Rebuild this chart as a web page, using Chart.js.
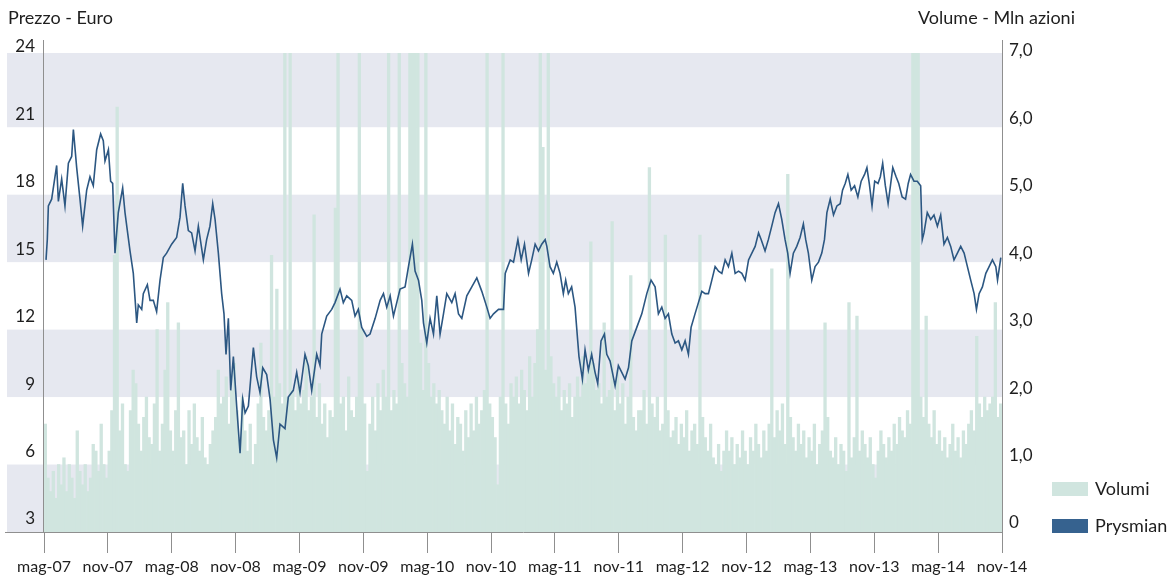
<!DOCTYPE html>
<html lang="it">
<head>
<meta charset="utf-8">
<title>Prysmian - prezzo e volumi</title>
<script src="https://cdn.jsdelivr.net/npm/chart.js@4.4.1/dist/chart.umd.min.js"></script>
<style>
  html, body { margin: 0; padding: 0; background: #fff; }
  #wrap { width: 1175px; height: 579px; }
</style>
</head>
<body>
<div id="wrap"><canvas id="grafico" width="1175" height="579"></canvas></div>
<script>
// etichette asse x, una ogni 6 mesi (mag-07 = mese 0)
const etichetteMesi = ['mag-07','nov-07','mag-08','nov-08','mag-09','nov-09','mag-10','nov-10',
  'mag-11','nov-11','mag-12','nov-12','mag-13','nov-13','mag-14','nov-14'];
const tickPrezzo = [3, 6, 9, 12, 15, 18, 21, 24];
const tickVolume = [0, 1, 2, 3, 4, 5, 6, 7];
const titoloPrezzo = 'Prezzo - Euro';
const titoloVolume = 'Volume - Mln azioni';

// quotazione Prysmian: [mese da mag-07, prezzo in euro]
const quotazioni = [
  [0.19,15.1],[0.31,16.0],[0.41,17.5],[0.72,17.8],[1.19,19.3],[1.35,17.7],[1.66,18.7],[1.97,17.5],[2.29,19.4],[2.60,19.7],
  [2.76,20.9],[3.07,19.2],[3.38,17.8],[3.63,16.6],[4.01,18.2],[4.32,18.8],[4.63,18.4],[4.95,20.0],[5.32,20.7],[5.57,20.4],
  [5.73,19.5],[6.05,20.0],[6.26,18.6],[6.45,18.5],[6.67,15.4],[6.98,17.2],[7.39,18.3],[7.61,17.2],[7.83,16.4],[8.08,15.5],
  [8.39,14.5],[8.71,12.3],[8.86,13.1],[9.18,12.9],[9.33,13.6],[9.71,14.0],[9.96,13.3],[10.27,13.3],[10.58,12.8],[10.90,14.2],
  [11.21,15.2],[11.52,15.4],[11.99,15.8],[12.46,16.1],[12.78,17.0],[13.03,18.5],[13.25,17.5],[13.56,16.4],[13.87,16.3],[14.19,15.5],
  [14.50,16.6],[14.97,15.1],[15.28,16.0],[15.59,16.6],[15.85,17.6],[16.07,16.9],[16.38,15.4],[16.69,13.6],[16.91,12.7],[17.10,10.9],
  [17.32,12.5],[17.54,9.3],[17.79,10.8],[18.10,8.6],[18.42,6.5],[18.67,8.9],[18.89,8.3],[19.20,8.6],[19.67,11.2],[19.98,9.9],
  [20.29,9.2],[20.55,10.3],[20.92,10.0],[21.24,8.9],[21.55,7.1],[21.86,6.3],[22.17,7.8],[22.64,7.6],[22.95,9.0],
  [23.42,9.3],[23.74,10.1],[24.05,9.2],[24.52,10.9],[24.83,10.4],[25.15,9.3],[25.62,10.9],[25.93,10.4],[26.09,11.8],[26.56,12.6],
  [27.03,12.9],[27.34,13.2],[27.81,13.8],[28.12,13.2],[28.44,13.5],[28.91,13.3],[29.22,12.6],[29.53,12.9],[29.85,12.1],[30.32,11.7],
  [30.63,11.8],[31.11,12.5],[31.58,13.3],[31.89,13.6],[32.20,13.0],[32.52,13.5],[32.83,12.6],[33.14,13.2],[33.45,13.8],[33.92,13.9],
  [34.24,14.8],[34.61,15.8],[34.86,14.6],[35.18,14.2],[35.49,13.3],[35.65,12.3],[35.96,11.4],[36.27,12.5],[36.59,11.8],[36.90,13.5],
  [37.21,11.8],[37.53,12.7],[37.84,13.6],[38.31,13.2],[38.62,13.6],[38.94,12.7],[39.25,12.5],[39.72,13.5],[40.19,13.9],[40.66,14.3],
  [41.13,13.7],[41.60,13.0],[41.91,12.5],[42.23,12.7],[42.70,12.9],[43.17,12.9],[43.33,14.5],[43.80,15.1],[44.11,15.0],[44.52,16.0],
  [44.83,15.1],[45.14,15.8],[45.52,14.5],
  [45.82,15.1],[46.14,15.8],[46.45,15.5],[46.76,15.8],[47.08,16.0],[47.24,15.7],[47.54,14.8],[47.85,14.5],[48.17,15.0],[48.48,14.5],
  [48.79,13.6],[49.01,14.2],[49.26,13.6],[49.57,13.9],[49.89,13.0],[50.14,11.5],[50.26,10.8],[50.58,9.8],[50.83,11.1],[51.14,10.2],
  [51.45,10.9],[51.77,10.1],[52.02,9.6],[52.33,11.5],[52.65,11.8],[52.87,10.9],[53.18,10.6],[53.40,10.1],[53.65,9.5],[53.96,10.4],
  [54.28,10.1],[54.59,9.8],[54.91,10.3],[55.22,11.5],[55.69,12.1],[56.16,12.7],[56.63,13.6],[57.03,14.2],[57.41,13.9],[57.72,12.7],
  [58.04,13.0],[58.35,12.5],[58.66,12.7],[58.98,11.8],[59.29,11.4],[59.60,11.5],[59.92,11.1],[60.23,11.5],[60.54,10.9],[60.79,12.1],
  [61.16,12.7],[61.48,13.2],[61.80,13.7],[62.11,13.6],[62.42,13.6],[62.74,14.2],[63.05,14.8],[63.37,14.6],[63.68,14.5],[63.99,15.1],
  [64.30,14.8],[64.62,15.4],[64.93,14.5],[65.25,14.6],[65.56,14.5],[65.87,14.2],[66.19,15.1],[66.50,15.4],[66.81,15.7],[67.13,16.3],
  [67.38,16.0],
  [67.74,15.5],[68.05,16.0],[68.37,16.6],[68.68,17.2],[69.00,17.6],[69.31,16.9],[69.62,16.0],[69.87,15.4],[70.09,14.5],[70.40,15.4],
  [70.72,15.7],[71.03,16.1],[71.34,16.7],[71.56,16.0],[71.81,15.4],[72.13,14.2],[72.44,14.8],[72.76,15.0],[73.07,15.4],[73.32,16.0],
  [73.55,17.2],[73.86,17.8],[74.17,17.1],[74.49,17.5],[74.80,17.6],[75.02,18.2],[75.27,18.5],[75.52,18.9],[75.83,18.2],[76.15,18.4],
  [76.46,17.9],[76.77,18.6],[77.09,18.9],[77.31,19.2],[77.53,18.5],[77.79,17.5],[78.04,18.6],[78.35,18.5],[78.57,18.8],[78.79,19.4],
  [79.04,18.4],[79.30,17.6],[79.52,18.4],[79.74,19.2],[80.05,18.8],[80.30,18.5],[80.62,17.9],[80.94,17.8],[81.19,18.5],[81.41,18.9],
  [81.73,18.6],[82.04,18.6],[82.36,18.4],[82.51,16.0],[82.67,16.3],[82.98,17.2],[83.30,16.9],[83.61,17.1],[83.93,16.6],[84.24,17.1],
  [84.55,15.8],[84.87,16.1],[85.18,15.7],[85.49,15.1],[85.81,15.4],[86.12,15.7],[86.44,15.4],[86.75,14.8],[87.06,14.2],[87.38,13.6],
  [87.60,12.9],[87.85,13.6],[88.16,13.9],[88.48,14.5],[88.79,14.8],[89.10,15.1],[89.42,14.8],[89.58,14.2],[89.89,15.2]
];

// volumi in milioni di azioni, 4 valori per mese (circa settimanali), da mag-07 a ott-14
const volumi = [
  1.6,0.8,0.6,0.9, 0.5,1.0,0.7,1.1, 0.6,1.0,0.8,0.5,   // mag-lug 07
  1.5,0.9,0.7,1.0, 0.6,0.8,1.3,1.2, 0.9,1.6,1.0,0.8,   // ago-ott 07
  1.2,1.8,4.1,6.3, 1.5,1.9,1.0,0.9, 1.8,2.4,2.2,1.6,   // nov 07-gen 08
  1.2,1.7,2.0,1.4, 1.3,1.9,3.0,1.2, 1.6,2.4,3.4,1.5,   // feb-apr 08
  1.2,1.8,3.1,1.4, 1.5,1.0,1.8,1.3, 1.9,1.4,1.2,1.7,   // mag-lug 08
  1.1,1.0,1.3,1.5, 1.7,2.4,1.9,2.0, 2.3,1.6,2.1,2.5,   // ago-ott 08
  1.8,1.4,2.0,1.5, 1.2,1.6,1.0,1.3, 1.9,2.8,1.7,1.5,   // nov 08-gen 09
  1.8,4.1,2.0,3.6, 2.2,1.9,7.2,2.0, 7.2,2.1,1.8,2.3,   // feb-apr 09
  1.9,2.1,2.6,1.8, 2.0,4.7,1.7,2.2, 1.6,1.9,1.4,1.8,   // mag-lug 09
  1.7,4.8,7.2,1.9, 2.0,1.5,2.3,1.8, 1.7,2.0,7.2,3.0,   // ago-ott 09
  1.9,0.9,1.6,2.0, 1.5,2.2,1.8,2.4, 2.0,7.2,1.8,2.1,   // nov 09-gen 10
  1.9,7.2,2.5,2.2, 2.0,7.2,7.2,7.2, 7.2,2.8,2.1,7.2,   // feb-apr 10
  2.5,2.0,2.2,1.9, 2.1,1.8,1.6,2.0, 1.5,1.9,1.3,1.7,   // mag-lug 10
  1.6,1.2,1.8,1.4, 1.9,1.5,2.0,1.6, 1.8,2.1,7.2,1.9,   // ago-ott 10
  1.7,1.4,0.7,2.0, 7.2,1.9,1.6,2.2, 2.0,2.3,1.9,2.4,   // nov 10-gen 11
  2.1,1.8,2.6,2.0, 2.5,3.0,7.2,5.7, 2.4,7.2,2.6,2.2,   // feb-apr 11
  2.0,2.3,1.8,2.1, 1.9,2.2,1.7,2.0, 2.3,2.0,2.6,2.2,   // mag-lug 11
  2.4,4.3,2.5,2.1, 2.2,1.9,3.1,2.0, 2.1,4.6,1.8,2.4,   // ago-ott 11
  1.9,2.2,1.6,2.0, 3.8,1.7,1.5,1.8, 1.8,2.1,1.6,5.4,   // nov 11-gen 12
  1.9,1.7,2.0,1.5, 1.6,4.4,1.8,1.4, 1.5,1.7,1.3,1.6,   // feb-apr 12
  1.4,1.8,1.2,1.5, 1.6,1.3,4.4,1.7, 1.4,1.2,1.6,1.1,   // mag-lug 12
  1.0,1.3,0.9,1.2, 1.5,1.2,1.4,1.0, 1.3,1.1,1.5,1.2,   // ago-ott 12
  1.0,1.4,1.2,1.6, 1.3,1.1,1.5,1.2, 1.6,3.9,1.4,1.8,   // nov 12-gen 13
  1.5,1.9,1.3,5.3, 1.7,1.4,1.2,1.6, 1.3,1.5,1.1,1.4,   // feb-apr 13
  1.2,1.6,1.0,1.3, 1.5,3.1,1.7,1.2, 1.1,1.4,1.0,1.3,   // mag-lug 13
  1.2,0.9,3.4,1.1, 1.4,3.2,1.2,1.5, 1.3,1.1,1.4,1.0,   // ago-ott 13
  0.8,1.2,1.5,1.3, 1.1,1.4,1.2,1.6, 1.3,1.7,1.5,1.4,   // nov 13-gen 14
  1.8,1.6,7.2,7.2, 7.2,2.0,1.7,3.2, 1.6,1.4,1.8,1.3,   // feb-apr 14
  1.5,1.2,1.4,1.1, 1.3,1.6,1.2,1.4, 1.1,1.5,1.3,1.6,   // mag-lug 14
  1.8,1.5,2.9,1.9, 1.7,2.0,1.8,1.9, 2.0,3.4,1.7,1.9    // ago-ott 14
];

const COLORE_VOLUMI = '#d0e5df';
const COLORE_PREZZO = '#2c5782';
const COLORE_LEGENDA_PREZZO = '#36628f';
const COLORE_FASCIA = '#e6e8f0';
const COLORE_ASSI = '#8f8f8f';
const COLORE_TESTO = '#1e1e1e';
const FONT = '"Lato", "Open Sans", sans-serif';

// fasce grigie alternate, dietro a tutto (anche sotto le etichette di sinistra)
const fasce = {
  id: 'fasce',
  beforeDraw(chart) {
    const { ctx, chartArea, scales } = chart;
    const yv = scales.yVol;
    ctx.save();
    ctx.fillStyle = COLORE_FASCIA;
    for (let v = 0; v < tickVolume.length - 1; v += 2) {
      const alto = v + 1 >= tickVolume[tickVolume.length - 1] ? yv.max : v + 1;
      const top = yv.getPixelForValue(alto);
      const bottom = yv.getPixelForValue(v);
      ctx.fillRect(7, top, chartArea.right - 7, bottom - top);
    }
    ctx.restore();
  }
};

// linee degli assi, titoli e legenda
const cornice = {
  id: 'cornice',
  afterDraw(chart) {
    const { ctx, chartArea } = chart;
    ctx.save();
    ctx.strokeStyle = COLORE_ASSI;
    ctx.lineWidth = 1;
    ctx.beginPath();
    ctx.moveTo(chartArea.left - 0.5, 40); ctx.lineTo(chartArea.left - 0.5, chartArea.bottom);
    ctx.moveTo(chartArea.right + 0.5, 40); ctx.lineTo(chartArea.right + 0.5, chartArea.bottom);
    ctx.moveTo(5, chartArea.bottom + 0.5); ctx.lineTo(chartArea.left, chartArea.bottom + 0.5);
    ctx.stroke();

    ctx.fillStyle = COLORE_TESTO;
    ctx.font = '18px ' + FONT;
    ctx.textBaseline = 'middle';
    ctx.textAlign = 'left';
    ctx.fillText(titoloPrezzo, 8, 18);
    ctx.fillText(titoloVolume, chartArea.right - 84, 18);

    // legenda
    const voci = [
      { testo: chart.data.datasets[1].label, colore: COLORE_VOLUMI, y: 482 },
      { testo: chart.data.datasets[0].label, colore: COLORE_LEGENDA_PREZZO, y: 519 }
    ];
    voci.forEach(v => {
      ctx.fillStyle = v.colore;
      ctx.fillRect(chartArea.right + 50, v.y, 36, 14);
      ctx.fillStyle = COLORE_TESTO;
      ctx.fillText(v.testo, chartArea.right + 93, v.y + 7);
    });
    ctx.restore();
  }
};

const ctx = document.getElementById('grafico').getContext('2d');
new Chart(ctx, {
  type: 'line',
  data: {
    datasets: [
      {
        type: 'line',
        label: 'Prysmian',
        data: quotazioni.map(q => ({ x: q[0], y: q[1] })),
        yAxisID: 'yPrezzo',
        borderColor: COLORE_PREZZO,
        borderWidth: 1.6,
        pointRadius: 0,
        tension: 0,
        order: 1
      },
      {
        type: 'bar',
        label: 'Volumi',
        data: volumi.map((v, i) => ({ x: i * 0.25 + 0.125, y: v })),
        yAxisID: 'yVol',
        backgroundColor: COLORE_VOLUMI,
        borderWidth: 0,
        barPercentage: 1,
        categoryPercentage: 1,
        grouped: false,
        order: 2
      }
    ]
  },
  options: {
    responsive: false,
    animation: false,
    events: [],
    layout: { padding: { top: 53, left: 0, right: 0, bottom: 0 } },
    plugins: { legend: { display: false }, tooltip: { enabled: false } },
    scales: {
      x: {
        type: 'linear',
        min: 0,
        max: 90,
        offset: false,
        afterBuildTicks: s => { s.ticks = etichetteMesi.map((_, i) => ({ value: i * 6 })); },
        afterFit: s => { s.height = 47; },
        ticks: {
          autoSkip: false,
          maxRotation: 0,
          padding: 4,
          color: COLORE_TESTO,
          font: { family: FONT, size: 16 },
          callback: v => etichetteMesi[Math.round(v / 6)]
        },
        grid: { drawOnChartArea: false, drawTicks: true, tickLength: 21, color: COLORE_ASSI, offset: false },
        border: { display: true, color: COLORE_ASSI }
      },
      yPrezzo: {
        type: 'linear',
        position: 'left',
        min: 3,
        max: 24.3,
        afterBuildTicks: s => { s.ticks = tickPrezzo.map(v => ({ value: v })); },
        afterFit: s => { s.width = 44; },
        ticks: {
          padding: 9,
          labelOffset: -13,
          color: COLORE_TESTO,
          font: { family: FONT, size: 17 }
        },
        grid: { display: false, drawTicks: false },
        border: { display: false }
      },
      yVol: {
        type: 'linear',
        position: 'right',
        min: 0,
        max: 7.1,
        afterBuildTicks: s => { s.ticks = tickVolume.map(v => ({ value: v })); },
        afterFit: s => { s.width = 173; },
        ticks: {
          padding: 7,
          labelOffset: -9,
          color: COLORE_TESTO,
          font: { family: FONT, size: 17 },
          callback: v => v === 0 ? '0' : v.toFixed(1).replace('.', ',')
        },
        grid: { display: false, drawTicks: false },
        border: { display: false }
      }
    }
  },
  plugins: [fasce, cornice]
});
</script>
</body>
</html>
